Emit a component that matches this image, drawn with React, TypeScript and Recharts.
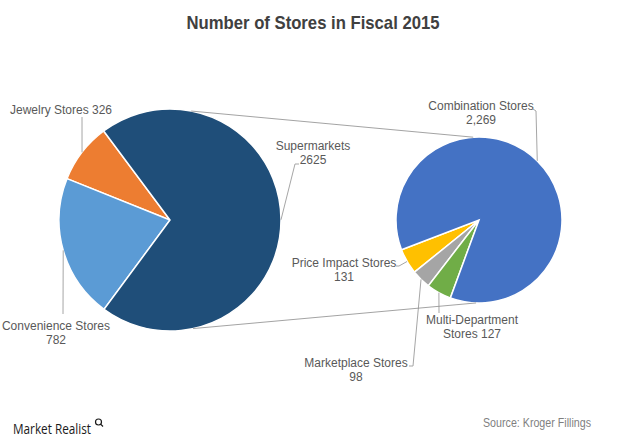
import { PieChart, Pie, Cell } from 'recharts';

document.body.style.margin = '0';

// left pie: all stores by format
const mainNames = ['Jewelry Stores', 'Convenience Stores', 'Supermarkets'];
const mainValues = [326, 782, 2625];
const mainColors = ['#ED7D31', '#5B9BD5', '#1F4E79'];

// right pie: supermarkets split
const subNames = ['Price Impact Stores', 'Marketplace Stores', 'Multi-Department Stores', 'Combination Stores'];
const subValues = [131, 98, 127, 2269];
const subColors = ['#FFC000', '#A5A5A5', '#70AD47', '#4472C4'];

const mainData = mainNames.map((name, i) => ({ name, value: mainValues[i] }));
const subData = subNames.map((name, i) => ({ name, value: subValues[i] }));

const W = 620;
const H = 443;
const LEFT = { cx: 170, cy: 220, r: 111 };
const RIGHT = { cx: 479, cy: 220, r: 83 };
const RAD = Math.PI / 180;
const TEXT = '#595959';
const FONT = "'Liberation Sans', Arial, sans-serif";

type LabelLayout = {
  x: number;
  y: number;
  lines: (name: string, value: number) => string[];
  path: [number, number][];
};

const labelLayout: Record<string, LabelLayout> = {
  'Jewelry Stores': { x: 61, y: 110, lines: (n, v) => [`${n} ${v}`], path: [[82, 117]] },
  'Convenience Stores': { x: 56, y: 326, lines: (n, v) => [n, String(v)], path: [[63, 314]] },
  Supermarkets: { x: 313, y: 146, lines: (n, v) => [n, String(v)], path: [[295, 164], [299, 164]] },
  'Combination Stores': { x: 481, y: 106, lines: (n, v) => [n, v.toLocaleString('en-US')], path: [[536, 111], [533, 109]] },
  'Price Impact Stores': { x: 344, y: 263, lines: (n, v) => [n, String(v)], path: [[399, 266], [396, 266]] },
  'Marketplace Stores': { x: 356, y: 363, lines: (n, v) => [n, String(v)], path: [[413, 366], [409, 366]] },
  'Multi-Department Stores': { x: 472, y: 320, lines: (_n, v) => ['Multi-Department', `Stores ${v}`], path: [[439, 313]] },
};

function polar(cx: number, cy: number, r: number, angle: number) {
  return [cx + r * Math.cos(-angle * RAD), cy + r * Math.sin(-angle * RAD)];
}

function SliceLabel(props: any) {
  const { cx, cy, midAngle, outerRadius, name, value } = props;
  const lay = labelLayout[name];
  if (!lay) return null;
  const [ex, ey] = polar(cx, cy, outerRadius, midAngle);
  const pts = [[ex, ey], ...lay.path].map((p) => p.join(',')).join(' ');
  return (
    <g>
      <polyline points={pts} fill="none" stroke="#A6A6A6" strokeWidth={1} />
      {lay.lines(name, value).map((t, i) => (
        <text
          key={i}
          x={lay.x}
          y={lay.y + i * 14}
          textAnchor="middle"
          dominantBaseline="central"
          fontSize={12}
          fontFamily={FONT}
          fill={TEXT}
        >
          {t}
        </text>
      ))}
    </g>
  );
}

function Connectors() {
  const a = polar(LEFT.cx, LEFT.cy, LEFT.r, 79);
  const b = polar(RIGHT.cx, RIGHT.cy, RIGHT.r, 94);
  const c = polar(LEFT.cx, LEFT.cy, LEFT.r, -78);
  const d = polar(RIGHT.cx, RIGHT.cy, RIGHT.r, -92);
  return (
    <g stroke="#8C8C8C" strokeWidth={0.8}>
      <line x1={a[0]} y1={a[1]} x2={b[0]} y2={b[1]} />
      <line x1={c[0]} y1={c[1]} x2={d[0]} y2={d[1]} />
    </g>
  );
}

export default function App() {
  return (
    <div style={{ position: 'relative', width: W, height: H, background: '#fff' }}>
      <PieChart width={W} height={H} margin={{ top: 0, right: 0, bottom: 0, left: 0 }}>
        <Pie
          data={mainData}
          dataKey="value"
          nameKey="name"
          cx={LEFT.cx}
          cy={LEFT.cy}
          outerRadius={LEFT.r}
          startAngle={126.7}
          endAngle={486.7}
          stroke="#fff"
          strokeWidth={1.5}
          label={SliceLabel}
          labelLine={false}
          isAnimationActive={false}
        >
          {mainData.map((d, i) => (
            <Cell key={d.name} fill={mainColors[i]} />
          ))}
        </Pie>
        <Pie
          data={subData}
          dataKey="value"
          nameKey="name"
          cx={RIGHT.cx}
          cy={RIGHT.cy}
          outerRadius={RIGHT.r}
          startAngle={201}
          endAngle={561}
          stroke="#fff"
          strokeWidth={1.5}
          label={SliceLabel}
          labelLine={false}
          isAnimationActive={false}
        >
          {subData.map((d, i) => (
            <Cell key={d.name} fill={subColors[i]} />
          ))}
        </Pie>
      </PieChart>
      <svg width={W} height={H} style={{ position: 'absolute', left: 0, top: 0, pointerEvents: 'none' }}>
        <Connectors />
        <text
          x={313}
          y={22}
          textAnchor="middle"
          dominantBaseline="central"
          fontSize={19}
          fontWeight="bold"
          fontFamily="'Liberation Sans Narrow', 'Arial Narrow', 'Liberation Sans', Arial, sans-serif"
          fill="#404040"
          textLength={253}
          lengthAdjust="spacingAndGlyphs"
        >
          Number of Stores in Fiscal 2015
        </text>
        <text
          x={13}
          y={428}
          dominantBaseline="central"
          fontSize={15}
          fontFamily="'Open Sans', 'Liberation Sans', sans-serif"
          fill="#1A1A1A"
          textLength={78}
          lengthAdjust="spacingAndGlyphs"
        >
          Market Realist
        </text>
        <g stroke="#1A1A1A" strokeWidth={1.2} fill="none">
          <circle cx={98.5} cy={422} r={3} />
          <line x1={100.6} y1={424.1} x2={103} y2={426.5} />
        </g>
        <text
          x={591}
          y={423}
          textAnchor="end"
          dominantBaseline="central"
          fontSize={12}
          fontFamily={FONT}
          fill="#7F7F7F"
          textLength={108}
          lengthAdjust="spacingAndGlyphs"
        >
          Source: Kroger Fillings
        </text>
      </svg>
    </div>
  );
}
